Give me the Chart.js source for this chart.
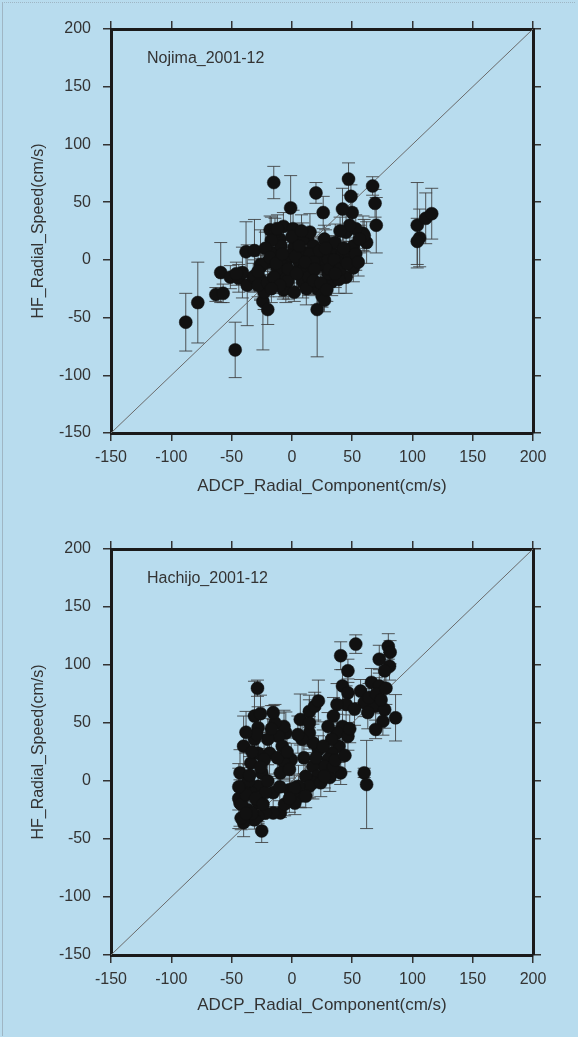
<!DOCTYPE html>
<html>
<head>
<meta charset="utf-8">
<script src="https://cdn.jsdelivr.net/npm/chart.js@4"></script>
<style>
    html, body { margin: 0; padding: 0; }
    body { width: 578px; height: 1037px; background: #b8dcee; position: relative; overflow: hidden; }
    .frame { position: absolute; left: 2px; top: 2px; width: 572px; height: 1033px; border-left: 1px solid #9fb6c4; border-top: 1px dotted #9fb6c4; }
    .plot { position: absolute; left: 0; width: 578px; height: 518px; }
    #wrap1 { top: 0; }
    #wrap2 { top: 519px; }
</style>
</head>
<body>
<div class="frame"></div>
<div class="plot" id="wrap1"><canvas id="nojima" width="578" height="518"></canvas></div>
<div class="plot" id="wrap2"><canvas id="hachijo" width="578" height="518"></canvas></div>
<script>
"use strict";

// axis range and ticks (cm/s)
var axisMin = -150, axisMax = 200, tickStep = 50;
var xTitle = "ADCP_Radial_Component(cm/s)";
var yTitle = "HF_Radial_Speed(cm/s)";

// 1:1 reference line
var diagX = [-150, 200];
var diagY = [-150, 200];

// Nojima 2001-12 : ADCP radial component, HF radial speed, error half width
var nojimaX = [-88, -78, -47, -59, -63, -57, -51, -44, -41, -37, -38, -31, -32, -26, -24, -20, -15, -18, -7, -7,
    -1, 20, 26, 47, 49, 67, 69, 70, 21, 104, 106, 104, 111, 116, 45, 59, 62, 50, 42, 60,
    53, 45, 51, 34, 33, 27, 21, 13, 12, 7, 2, 1, -10, -14, -16, -20, -25, -26, -23, -6,
    -5, 2, 9, 16, 21, 25, 27, 27, 33, 39, 9, 15, -5, -2, -9, 18, 24, 30, 36, 42,
    48, 51, 56, -46, -31, -28, 5, 10, 15, -12, 30, 38, -3, 18, -17, 0,
    -22, -18, -13, -8, -3, 3, 6, 11, 14, 19, 23, 28, 31, 35, 40, 43, 46, 53, -20, -15,
    -10, 4, 12, 18, 24, 29, 36, -28, -17, 8, -12, 55, 48, 40];
var nojimaY = [-54, -37, -78, -11, -30, -29, -15, -16, -11, -22, 7, 8, -15, -4, -36, -43, 67, 26, 29, -26,
    45, 58, 41, 70, 55, 64, 49, 30, -43, 30, 19, 16, 36, 40, -15, 23, 15, 41, 44, 21,
    27, 24, -7, -5, 6, 18, 3, 18, 6, -5, 11, 27, 18, 24, 6, -2, -5, -17, -28, -14,
    -25, -28, -19, -11, -25, -31, -35, -5, -19, -17, 18, 24, -2, 4, 12, 12, 1, 1, 15, 6,
    4, 12, 18, -12, -14, -22, 0, -8, 5, -8, -12, -2, -18, -2, 17, 20,
    10, 2, -3, 5, -8, 3, 12, -2, -15, -8, 8, 10, -8, 0, -8, 10, -3, 5, -20, -15,
    -22, -12, -25, -18, -20, -26, -12, -10, -25, 25, 27, -2, 30, 25];
var nojimaErr = [25, 35, 24, 26, 6, 8, 10, 12, 22, 35, 26, 27, 12, 30, 42, 13, 14, 12, 12, 8,
    28, 9, 14, 14, 10, 8, 12, 24, 41, 37, 25, 20, 22, 22, 14, 15, 18, 16, 18, 14,
    12, 16, 12, 14, 15, 12, 16, 10, 14, 18, 20, 16, 14, 12, 12, 14, 16, 18, 15, 18,
    12, 8, 14, 18, 14, 10, 10, 16, 12, 12, 14, 16, 20, 14, 18, 12, 14, 12, 16, 14,
    12, 14, 12, 10, 14, 10, 12, 16, 12, 14, 12, 14, 16, 10, 20, 10,
    14, 12, 16, 10, 14, 12, 14, 12, 16, 14, 12, 16, 12, 14, 12, 14, 12, 14, 12, 14,
    10, 12, 14, 12, 10, 10, 12, 14, 12, 14, 12, 12, 14, 12];

// Hachijo 2001-12
var hachijoX = [-28.5, 53, 40.5, 46.5, 80, 81.5, 81, 77, 72.5, 66, 72.5, 57, 60, 69.5, 63, 77, 75.5, 69.5, 86, 42,
    46.5, 45, 37.5, 34.5, 42, 37.5, 46.5, 39, 33, 30, 40.5, 31.5, 27, 22, 17.5, 14.5, 8.5, 7, 14.5, 19,
    22, 14.5, 17.5, 21, 17.5, 11.5, 14.5, 7, 5.5, -2, -0.5, -6.5, -9.5, -5, -6.5, -11, -14, -15.5, -18.5, -15.5,
    -9.5, -15.5, -22, -28, -25, -31, -40, -43, -43, -40, -31, -28, -31, -28, -34, -25, -28, -34, -28, -37,
    -40, -22, -23, 60, 62, 2.5, 11.5, 24, 27, 34.5, 33, 30, -44, -42, -36, -33, -20, -17, -2, 2, 5,
    -42, -38, -35, -30, -26, -33, -29, -38, -24, -20, -12, -8, -4, -10, -6, -2, 10, 20, 26, 36,
    44, 48, 52, 64, 70, 74, 78, -38, -26, -44];
var hachijoY = [80, 118, 108, 95, 116, 111, 99, 95, 105, 85, 82, 77.5, 67.5, 64.5, 59, 61.5, 51.5, 44.5, 54.5, 82,
    76, 66, 66, 56, 47, 41.5, 38.5, 30, 24, 18.5, 7, 3, 12.5, 27, 33, 41.5, 36, 53, 60, 64.5,
    69, 50, 12.5, 4, -1.5, 4, -4.5, -13, -4.5, -7.5, 18.5, 15.5, 7, 41.5, 47, 38.5, 50, 59, 24, -10,
    -27.5, -27.5, -27.5, -30.5, -43, -33.5, -36, -19, 7, 30, 56, 46, 36, 24, 15.5, 7, -4.5, -10, -19, -24.5,
    -4.5, -10, 18.5, 7, -3, -19, -13, -1.5, 4, 12.5, 36, 47, -15, -32, 0, -28, 36, 45, 10, -6, 40,
    -20, -12, 5, -15, 12, 25, 40, -28, -20, 0, 20, 30, 25, -5, -20, -15, 20, 20, 30, 18,
    22, 45, 62, 72, 75, 70, 80, 42, 58, -5];
var hachijoErr = [7, 8, 12, 10, 11, 10, 12, 14, 12, 12, 14, 10, 12, 18, 14, 16, 12, 8, 20, 14,
    12, 16, 18, 16, 14, 16, 12, 14, 14, 12, 10, 12, 14, 12, 16, 14, 16, 22, 14, 12,
    18, 20, 12, 10, 14, 12, 10, 10, 18, 10, 14, 14, 12, 18, 14, 20, 16, 6, 18, 12,
    4, 4, 4, 6, 10, 8, 12, 20, 20, 26, 30, 18, 20, 16, 22, 16, 20, 14, 16, 12,
    16, 14, 16, 4, 38, 10, 10, 12, 10, 12, 14, 12, 26, 10, 14, 10, 18, 20, 10, 12, 16,
    12, 14, 16, 12, 14, 16, 18, 10, 12, 14, 16, 14, 12, 12, 10, 12, 14, 12, 14, 12,
    14, 12, 14, 12, 14, 12, 14, 18, 16, 20];

function toPoints(xs, ys, es) {
    var out = [];
    for (var i = 0; i < xs.length; i++) out.push({ x: xs[i], y: ys[i], e: es ? es[i] : 0 });
    return out;
}

// vertical error bars with caps, drawn under the markers
var errorBars = {
    id: "errorBars",
    beforeDatasetsDraw: function(chart) {
        var ctx = chart.ctx, xs = chart.scales.x, ys = chart.scales.y, area = chart.chartArea;
        var pts = chart.data.datasets[0].data;
        ctx.save();
        ctx.beginPath();
        ctx.rect(area.left, area.top, area.right - area.left, area.bottom - area.top);
        ctx.clip();
        ctx.strokeStyle = "rgba(60,60,60,0.85)";
        ctx.lineWidth = 1;
        pts.forEach(function(p) {
            var px = xs.getPixelForValue(p.x);
            var top = ys.getPixelForValue(p.y + p.e);
            var bot = ys.getPixelForValue(p.y - p.e);
            ctx.beginPath();
            ctx.moveTo(px, top); ctx.lineTo(px, bot);
            ctx.moveTo(px - 6.5, top); ctx.lineTo(px + 6.5, top);
            ctx.moveTo(px - 6.5, bot); ctx.lineTo(px + 6.5, bot);
            ctx.stroke();
        });
        ctx.restore();
    }
};

// station label inside the plot box
var stationLabel = {
    id: "stationLabel",
    afterDraw: function(chart, args, opts) {
        var ctx = chart.ctx, area = chart.chartArea;
        ctx.save();
        ctx.font = "16px 'Liberation Sans', Arial, sans-serif";
        ctx.fillStyle = "#333";
        ctx.textBaseline = "middle";
        ctx.fillText(opts.text, area.left + 36, area.top + opts.dy);
        ctx.restore();
    }
};

function scatterPlot(canvasId, label, xs, ys, es, padTop, xHeight) {
    var fontFamily = "'Liberation Sans', Arial, sans-serif";
    function axis(pos, extra) {
        var o = {
            type: "linear", position: pos, min: axisMin, max: axisMax,
            grid: { display: true, drawOnChartArea: false, drawTicks: true, tickLength: 8, color: "#333", lineWidth: 1.5 },
            border: { display: true, color: "#1a1a1a", width: 3 },
            ticks: { stepSize: tickStep, color: "#333", font: { size: 16, family: fontFamily }, maxRotation: 0, autoSkip: false, padding: 7 }
        };
        for (var k in extra) o[k] = extra[k];
        return o;
    }
    return new Chart(document.getElementById(canvasId).getContext("2d"), {
        type: "scatter",
        data: {
            datasets: [{
                label: label,
                data: toPoints(xs, ys, es),
                pointRadius: 6.5,
                pointHoverRadius: 6.5,
                backgroundColor: "#111",
                borderColor: "#111",
                borderWidth: 0.5
            }, {
                label: "1:1",
                data: toPoints(diagX, diagY),
                showLine: true,
                pointRadius: 0,
                borderColor: "#6a6a6a",
                borderWidth: 1
            }]
        },
        options: {
            responsive: false,
            animation: false,
            layout: { padding: { top: padTop, right: 37, left: 0, bottom: 0 } },
            plugins: {
                legend: { display: false },
                tooltip: { enabled: false },
                stationLabel: { text: label, dy: 30 }
            },
            scales: {
                x: axis("bottom", {
                    title: { display: true, text: xTitle, color: "#333", font: { size: 17, family: fontFamily }, padding: { bottom: 21 } },
                    afterFit: function(s) { s.height = xHeight; }
                }),
                y: axis("left", {
                    ticks: { stepSize: tickStep, color: "#333", font: { size: 16, family: fontFamily }, padding: 12 },
                    title: { display: true, text: yTitle, color: "#333", font: { size: 16, family: fontFamily }, padding: { top: 29 } },
                    afterFit: function(s) { s.width = 111; }
                }),
                x2: axis("top", { ticks: { display: false, stepSize: tickStep }, afterFit: function(s) { s.height = 8; } }),
                y2: axis("right", { ticks: { display: false, stepSize: tickStep }, afterFit: function(s) { s.width = 8; } })
            }
        },
        plugins: [errorBars, stationLabel]
    });
}

scatterPlot("nojima", "Nojima_2001-12", nojimaX, nojimaY, nojimaErr, 21, 85);
scatterPlot("hachijo", "Hachijo_2001-12", hachijoX, hachijoY, hachijoErr, 22, 82);
</script>
</body>
</html>
